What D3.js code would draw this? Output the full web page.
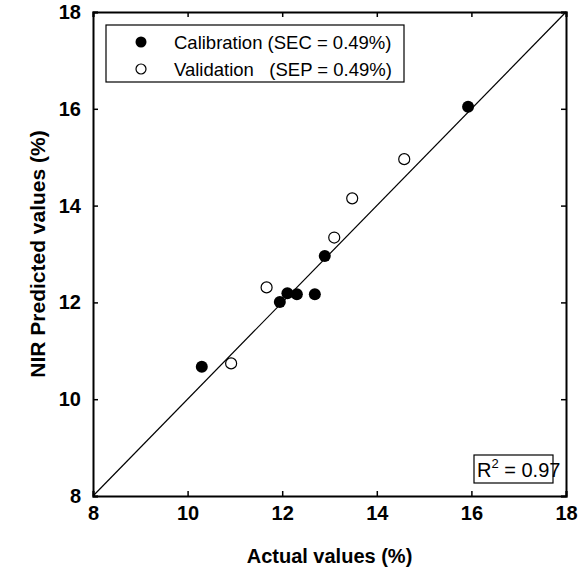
<!DOCTYPE html>
<html><head><meta charset="utf-8">
<script src="https://cdn.jsdelivr.net/npm/d3@7"></script>
<style>body{margin:0;background:#fff}svg{display:block}text{font-family:Arial,"Liberation Sans",sans-serif;fill:#000}</style>
</head><body><div id="chart"></div>
<script>
const calibActual = [10.30, 11.95, 12.11, 12.31, 12.69, 12.90, 15.93];
const calibPred   = [10.67, 12.01, 12.19, 12.17, 12.17, 12.96, 16.04];
const validActual = [10.92, 11.67, 13.10, 13.48, 14.58];
const validPred   = [10.74, 12.31, 13.34, 14.15, 14.96];
const tickValues = [8, 10, 12, 14, 16, 18];
const legendLabels = ["Calibration (SEC = 0.49%)", "Validation   (SEP = 0.49%)"];
const r2Label = "0.97";

(function () {
const W = 587, H = 570;
const m = {l: 93, r: 21, t: 12, b: 74};
const svg = d3.select("#chart").append("svg").attr("width", W).attr("height", H);
const x = d3.scaleLinear().domain([8, 18]).range([m.l, W - m.r]);
const y = d3.scaleLinear().domain([8, 18]).range([H - m.b, m.t]);

// 1:1 line
svg.append("line").attr("x1", x(8)).attr("y1", y(8)).attr("x2", x(18)).attr("y2", y(18))
  .attr("stroke", "#000").attr("stroke-width", 1.2);

// axes with inward ticks
const tk = 5;
const gBottom = svg.append("g").attr("transform", `translate(0,${y(8)})`)
  .call(d3.axisBottom(x).tickValues(tickValues).tickSize(-tk).tickPadding(10));
const gLeft = svg.append("g").attr("transform", `translate(${x(8)},0)`)
  .call(d3.axisLeft(y).tickValues(tickValues).tickSize(-tk).tickPadding(12));
const gTop = svg.append("g").attr("transform", `translate(0,${y(18)})`)
  .call(d3.axisTop(x).tickValues(tickValues).tickSize(-tk).tickFormat(""));
const gRight = svg.append("g").attr("transform", `translate(${x(18)},0)`)
  .call(d3.axisRight(y).tickValues(tickValues).tickSize(-tk).tickFormat(""));
[gBottom, gLeft, gTop, gRight].forEach(g => {
  g.select(".domain").attr("stroke", "#000").attr("stroke-width", 2);
  g.selectAll(".tick line").attr("stroke", "#000").attr("stroke-width", 1.5);
  g.selectAll(".tick text").attr("font-size", 20).attr("font-weight", "bold").attr("fill", "#000")
    .attr("font-family", "Arial, 'Liberation Sans', sans-serif");
});

// axis titles
svg.append("text").attr("x", (x(8) + x(18)) / 2).attr("y", 563).attr("text-anchor", "middle")
  .attr("font-size", 20).attr("font-weight", "bold").text("Actual values (%)");
svg.append("text").attr("transform", `translate(45,${(y(8) + y(18)) / 2}) rotate(-90)`)
  .attr("text-anchor", "middle").attr("font-size", 21).attr("font-weight", "bold")
  .text("NIR Predicted values (%)");

// points
const calib = calibActual.map((v, i) => ({a: v, p: calibPred[i]}));
const valid = validActual.map((v, i) => ({a: v, p: validPred[i]}));
svg.append("g").selectAll("circle").data(valid).join("circle")
  .attr("cx", d => x(d.a)).attr("cy", d => y(d.p)).attr("r", 5.5)
  .attr("fill", "#fff").attr("stroke", "#000").attr("stroke-width", 1.2);
svg.append("g").selectAll("circle").data(calib).join("circle")
  .attr("cx", d => x(d.a)).attr("cy", d => y(d.p)).attr("r", 6)
  .attr("fill", "#000");

// legend
const lg = svg.append("g");
lg.append("rect").attr("x", 106).attr("y", 25).attr("width", 298).attr("height", 57)
  .attr("fill", "#fff").attr("stroke", "#000").attr("stroke-width", 1.2);
lg.append("circle").attr("cx", 141).attr("cy", 42).attr("r", 5.5).attr("fill", "#000");
lg.append("circle").attr("cx", 141).attr("cy", 69).attr("r", 5).attr("fill", "#fff")
  .attr("stroke", "#000").attr("stroke-width", 1.2);
lg.append("text").attr("x", 174).attr("y", 49).attr("font-size", 18.5)
  .attr("xml:space", "preserve").style("white-space", "pre").text(legendLabels[0]);
lg.append("text").attr("x", 174).attr("y", 76).attr("font-size", 18.5)
  .attr("xml:space", "preserve").style("white-space", "pre").text(legendLabels[1]);

// R2 box
svg.append("rect").attr("x", 474).attr("y", 455).attr("width", 79).attr("height", 28)
  .attr("fill", "#fff").attr("stroke", "#000").attr("stroke-width", 1.2);
const rt = svg.append("text").attr("x", 477).attr("y", 477).attr("font-size", 20);
rt.append("tspan").text("R");
rt.append("tspan").attr("font-size", 13).attr("dy", -9).text("2");
rt.append("tspan").attr("dy", 9).text(" = " + r2Label);
})();
</script></body></html>
